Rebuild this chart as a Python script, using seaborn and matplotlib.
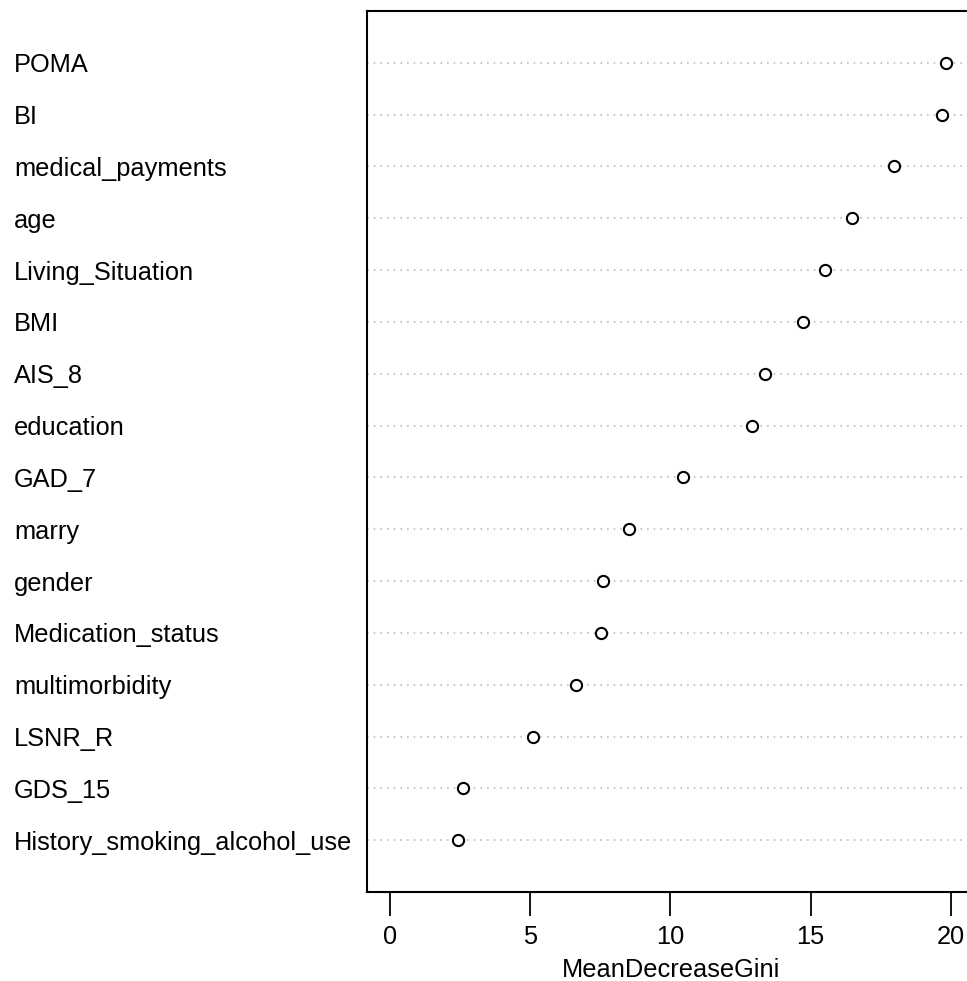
import numpy as np
import pandas as pd
import seaborn as sns
import matplotlib
matplotlib.use("Agg")
import matplotlib.pyplot as plt

# variable importance, top to bottom
variables = ["POMA", "BI", "medical_payments", "age", "Living_Situation", "BMI",
             "AIS_8", "education", "GAD_7", "marry", "gender", "Medication_status",
             "multimorbidity", "LSNR_R", "GDS_15", "History_smoking_alcohol_use"]
gini = [19.82, 19.67, 17.97, 16.48, 15.52, 14.73, 13.38, 12.92, 10.46, 8.51,
        7.58, 7.51, 6.65, 5.09, 2.60, 2.42]
xticks = [0, 5, 10, 15, 20]

df = pd.DataFrame({"var": variables, "MeanDecreaseGini": gini})
df["pos"] = np.arange(len(df), 0, -1)

sns.set_style("white")
plt.rcParams["font.family"] = ["Liberation Sans", "DejaVu Sans"]
plt.rcParams["text.color"] = "black"
plt.rcParams["xtick.color"] = "black"
plt.rcParams["ytick.color"] = "black"
plt.rcParams["axes.labelcolor"] = "black"

fig = plt.figure(figsize=(9.67, 9.81), dpi=100)
ax = fig.add_axes([367/967, 89/981, 608/967, 881/981])

for p in df["pos"]:
    ax.axhline(p, color="#bdbdbd", linestyle=(0, (1, 3)), linewidth=1.2, zorder=1)

sns.scatterplot(data=df, x="MeanDecreaseGini", y="pos", ax=ax, s=65,
                facecolor="white", edgecolor="black", linewidth=1.5, zorder=3)

ax.set_xlim(-0.82, 20.86)
ax.set_ylim(0, len(df) + 1)

ax.set_yticks(df["pos"], df["var"])
ax.tick_params(axis="y", length=0, pad=254, labelsize=18.3)
for lbl in ax.get_yticklabels():
    lbl.set_horizontalalignment("left")

ax.set_xticks(xticks)
ax.tick_params(axis="x", length=17, width=1.3, pad=7, labelsize=18.3, direction="out", bottom=True)
ax.set_xlabel("MeanDecreaseGini", fontsize=18.3, labelpad=6)
ax.set_ylabel("")

for s in ax.spines.values():
    s.set_visible(True)
    s.set_color("black")
    s.set_linewidth(1.5)

fig.savefig("out.png", dpi=100)
